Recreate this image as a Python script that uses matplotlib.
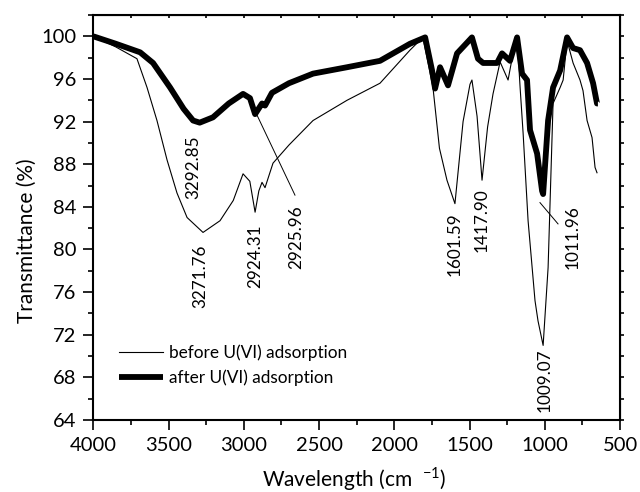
import numpy as np
import matplotlib.pyplot as plt
from matplotlib.ticker import MultipleLocator

plt.rcParams['font.family'] = ['Lato', 'DejaVu Sans']
plt.rcParams['mathtext.fontset'] = 'custom'
plt.rcParams['mathtext.rm'] = 'Lato'

# before U(VI) adsorption (thin line)
wn_before = [4000, 3850, 3710, 3643, 3577, 3510, 3444, 3377, 3271, 3158, 3070, 3005,
             2960, 2925, 2900, 2879, 2859, 2806, 2700, 2540, 2314, 2095, 1896, 1810,
             1743, 1700, 1650, 1597, 1543, 1497, 1484, 1450, 1417, 1380, 1344, 1297,
             1244, 1211, 1184, 1164, 1144, 1111, 1065, 1045, 1011, 978, 945, 898,
             878, 852, 812, 766, 746, 719, 686, 666, 653]
t_before = [100.0, 99.0, 97.9, 95.2, 92.1, 88.4, 85.3, 83.0, 81.6, 82.7, 84.6, 87.1,
            86.4, 83.5, 85.5, 86.3, 85.8, 88.1, 89.8, 92.1, 94.0, 95.6, 98.7, 99.9,
            95.2, 89.5, 86.5, 84.3, 92.0, 95.5, 95.9, 92.5, 86.5, 91.5, 94.6, 97.6,
            95.9, 98.4, 99.9, 95.2, 90.9, 82.7, 75.2, 73.3, 71.0, 78.3, 93.7, 95.2,
            95.9, 99.6, 97.5, 95.9, 94.9, 92.1, 90.5, 87.7, 87.2]

# after U(VI) adsorption (thick line)
wn_after = [4000, 3850, 3689, 3603, 3490, 3400, 3337, 3293, 3205, 3100, 3005, 2959,
            2925, 2879, 2859, 2813, 2700, 2540, 2314, 2095, 1896, 1795, 1749, 1729,
            1696, 1643, 1583, 1530, 1484, 1444, 1410, 1317, 1284, 1231, 1184, 1151,
            1118, 1098, 1051, 1018, 1011, 978, 945, 898, 852, 812, 766, 719, 679,
            653, 647]
t_after = [100.0, 99.3, 98.5, 97.5, 95.2, 93.2, 92.1, 91.9, 92.4, 93.7, 94.6, 94.2,
           92.7, 93.7, 93.5, 94.7, 95.6, 96.5, 97.1, 97.7, 99.3, 99.9, 96.8, 95.1,
           97.1, 95.4, 98.4, 99.2, 99.9, 97.9, 97.5, 97.5, 98.4, 97.7, 99.9, 96.5,
           95.9, 91.2, 89.0, 85.5, 85.2, 92.1, 95.2, 96.8, 99.9, 98.9, 98.7, 97.5,
           95.6, 93.7, 93.7]

fig = plt.figure(figsize=(6.4, 4.92), dpi=100)
ax = fig.add_axes([0.1458, 0.1463, 0.823, 0.8232])

ax.plot(wn_before, t_before, color='black', lw=0.8, label='before U(VI) adsorption')
ax.plot(wn_after, t_after, color='black', lw=4.2, solid_joinstyle='round',
        solid_capstyle='butt', label='after U(VI) adsorption')

ax.set_xlim(4000, 500)
ax.set_ylim(64, 102)
ax.xaxis.set_major_locator(MultipleLocator(500))
ax.xaxis.set_minor_locator(MultipleLocator(250))
ax.yaxis.set_major_locator(MultipleLocator(4))
ax.yaxis.set_minor_locator(MultipleLocator(2))
ax.tick_params(which='both', direction='out', width=1.2, labelsize=14.5, pad=5)
ax.tick_params(which='major', length=7)
ax.tick_params(which='minor', length=3.6)
for s in ax.spines.values():
    s.set_linewidth(1.5)

# short ticks on the top and right frame
top = ax.secondary_xaxis('top')
top.xaxis.set_major_locator(MultipleLocator(500))
top.xaxis.set_minor_locator(MultipleLocator(250))
top.tick_params(which='both', direction='in', length=2.5, width=1.2, labeltop=False)
right = ax.secondary_yaxis('right')
right.yaxis.set_major_locator(MultipleLocator(4))
right.yaxis.set_minor_locator(MultipleLocator(2))
right.tick_params(which='both', direction='out', length=3, width=1.2, labelright=False)

ax.set_xlabel('Wavelength (cm  $^{\\mathrm{-1}}$)', fontsize=15)
ax.xaxis.set_label_coords(0.495, -0.112)
ax.set_ylabel('Transmittance (%)', fontsize=15)
ax.yaxis.set_label_coords(-0.107, 0.442)

# peak annotations
kw = dict(rotation=90, ha='center', va='center', fontsize=12.3)
ax.text(3336, 87.7, '3292.85', **kw)
ax.text(3290, 77.5, '3271.76', **kw)
ax.text(2924, 79.35, '2924.31', **kw)
ax.text(2652, 81.2, '2925.96', **kw)
ax.plot([2912, 2660], [92.6, 85.1], color='black', lw=0.7)
ax.text(1597, 80.5, '1601.59', **kw)
ax.text(1417, 82.75, '1417.90', **kw)
ax.text(818, 81.2, '1011.96', **kw)
ax.plot([1032, 912], [84.4, 82.4], color='black', lw=0.7)
ax.text(1000, 67.7, '1009.07', **kw)

ax.legend(loc='center left', bbox_to_anchor=(0.035, 0.135), frameon=False,
          fontsize=12.4, handlelength=2.6, handletextpad=0.3, labelspacing=0.45,
          borderaxespad=0)

fig.savefig('out.png', dpi=100)
